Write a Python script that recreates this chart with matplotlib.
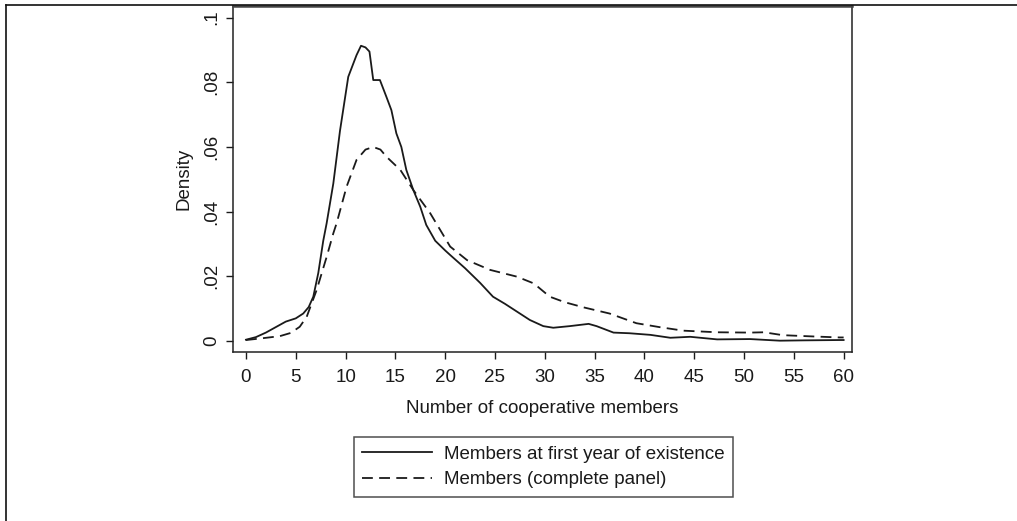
import numpy as np
import matplotlib
matplotlib.use("Agg")
import matplotlib.pyplot as plt
from matplotlib.lines import Line2D

plt.rcParams["font.family"] = ["Liberation Sans", "DejaVu Sans"]

# density of members at first year of existence
first_x = [0, 1, 2, 3, 4, 5, 5.75, 6.3, 6.76, 7.26, 7.76, 8.1, 8.77, 9.44,
           10.27, 11.1, 11.55, 12.0, 12.4, 12.78, 13.45, 14.1, 14.6, 15.1,
           15.6, 16.1, 16.8, 17.5, 18.1, 19, 20, 20.5, 22, 23.5, 24.8, 26,
           27.2, 28.5, 29.85, 30.85, 32.5, 34.4, 35.2, 36.9, 38.5, 40.6,
           42.6, 44.6, 47.3, 50.6, 53.6, 56, 59.6, 60]
first_y = [0.0004, 0.0012, 0.0026, 0.0043, 0.006, 0.007, 0.0085, 0.0105,
           0.0137, 0.021, 0.031, 0.0364, 0.0487, 0.065, 0.0817, 0.0884,
           0.0913, 0.0908, 0.0895, 0.0807, 0.0807, 0.0755, 0.0714, 0.0642,
           0.060, 0.0529, 0.0467, 0.0415, 0.0359, 0.031, 0.028, 0.0266,
           0.0225, 0.018, 0.0137, 0.0115, 0.0091, 0.0065, 0.0046, 0.0041,
           0.0046, 0.0053, 0.0046, 0.0026, 0.0024, 0.0019, 0.0010, 0.0013,
           0.0005, 0.0006, 0.0001, 0.0002, 0.0003, 0.0003]

# density of members over the complete panel
panel_x = [0, 1.5, 3.4, 4.5, 5.4, 6.1, 7.1, 8.1, 8.77, 9.1, 10.1, 11.1, 12.0,
           12.78, 13.5, 14.1, 15.5, 16.8, 18.5, 20.5, 22.2, 24.5, 27.2, 28.9,
           30.5, 32, 33.9, 36.5, 39.2, 41.5, 43.9, 47.3, 50.6, 52, 53.9, 57,
           59.6, 60]
panel_y = [0.0003, 0.0008, 0.0015, 0.0025, 0.0044, 0.0075, 0.0158, 0.026,
           0.0333, 0.0364, 0.0477, 0.056, 0.0592, 0.060, 0.0592, 0.057,
           0.0529, 0.0467, 0.0395, 0.0292, 0.025, 0.022, 0.0199, 0.0178,
           0.0137, 0.012, 0.0104, 0.0085, 0.0055, 0.0043, 0.0032, 0.0027,
           0.0026, 0.0027, 0.0018, 0.0014, 0.0011, 0.0011]

x_ticks = list(range(0, 61, 5))
y_ticks = [0, 0.02, 0.04, 0.06, 0.08, 0.1]
y_labels = ["0", ".02", ".04", ".06", ".08", ".1"]

FS = 13.5
W, H = 1017, 521
fig = plt.figure(figsize=(W / 100, H / 100), dpi=100)
ax = fig.add_axes([233 / W, 1 - 352 / H, (852 - 233) / W, (352 - 6) / H])

dash = (0, (6, 3.5))
ax.plot(first_x, first_y, color="#1a1a1a", lw=1.3,
        label="Members at first year of existence")
ax.plot(panel_x, panel_y, color="#1a1a1a", lw=1.3, linestyle=dash,
        label="Members (complete panel)")

ax.set_xlim(-1.3, 60.84)
ax.set_ylim(-0.0034, 0.1036)
ax.set_xticks(x_ticks)
ax.set_yticks(y_ticks)
ax.set_yticklabels(y_labels, rotation=90, va="center")
ax.tick_params(direction="out", length=5, width=1, labelsize=FS,
               colors="#1a1a1a")
ax.tick_params(axis="x", pad=7)
ax.tick_params(axis="y", pad=4)
for s in ax.spines.values():
    s.set_linewidth(1.1)
    s.set_color("#222222")
ax.spines["top"].set_linewidth(1.8)
ax.spines["top"].set_color("#444444")

ax.set_xlabel("Number of cooperative members", fontsize=FS, labelpad=10,
              color="#1a1a1a")
ax.set_ylabel("Density", fontsize=FS, labelpad=8, color="#1a1a1a")

leg = ax.legend(loc="upper center", bbox_to_anchor=(543.5 / W, 1 - 437 / H),
                bbox_transform=fig.transFigure, fontsize=FS, frameon=True,
                fancybox=False, edgecolor="#222222", handlelength=3.7,
                handletextpad=0.65, borderpad=0.45, labelspacing=0.45,
                borderaxespad=0)
leg.get_frame().set_linewidth(1.1)
for t in leg.get_texts():
    t.set_color("#1a1a1a")

# outer frame of the figure panel
fig.add_artist(Line2D([6 / W, 1], [1 - 5 / H, 1 - 5 / H], color="#111111",
                      lw=1.2, transform=fig.transFigure))
fig.add_artist(Line2D([6 / W, 6 / W], [1 - 5 / H, 0], color="#111111",
                      lw=1.2, transform=fig.transFigure))

fig.savefig("out.png", dpi=100)
